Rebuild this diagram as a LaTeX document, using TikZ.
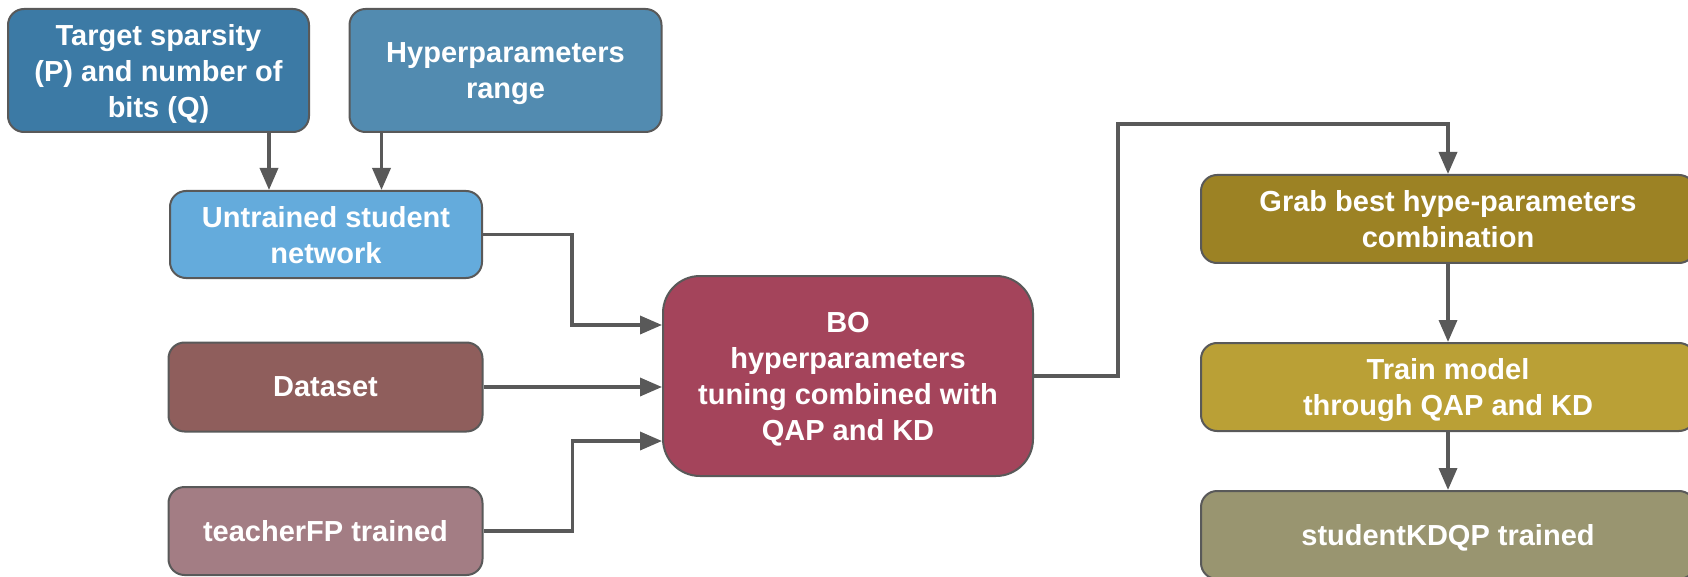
\documentclass[tikz,border=0pt]{standalone}
\usepackage{fontspec}
\setmainfont{Liberation Sans}
\usetikzlibrary{arrows.meta}

\definecolor{cTarget}{HTML}{3C7AA5}
\definecolor{cHyper}{HTML}{528BB0}
\definecolor{cUntrained}{HTML}{64ABDC}
\definecolor{cData}{HTML}{8F5E5C}
\definecolor{cTeacher}{HTML}{A37D84}
\definecolor{cBO}{HTML}{A4445B}
\definecolor{cGrab}{HTML}{9C8224}
\definecolor{cTrain}{HTML}{BAA036}
\definecolor{cStudent}{HTML}{999570}
\definecolor{edge}{HTML}{595959}

\tikzset{
  box/.style={draw=edge, line width=2pt, rounded corners=16pt, text=white,
    align=center, inner sep=0pt, text depth=0pt,
    font=\fontsize{29}{36}\selectfont\bfseries},
  arr/.style={draw=edge, line width=3.5pt,
    -{Triangle[width=18pt,length=22pt]}}
}

\begin{document}
\begin{tikzpicture}[x=1pt, y=-1pt]
\useasboundingbox (0,0) rectangle (1688,577);
\clip (0,0) rectangle (1688,577);
\fill[white] (0,0) rectangle (1688,577);

% inputs
\node[box, fill=cTarget, minimum width=301pt, minimum height=123pt] (tgt) at (158.5,70.5)
  {Target sparsity\\(P) and number of\\bits (Q)};
\node[box, fill=cHyper, minimum width=312pt, minimum height=123pt] (hyp) at (505.5,70.5)
  {Hyperparameters\\range};
\node[box, fill=cUntrained, minimum width=312pt, minimum height=87pt] (unt) at (326,234.5)
  {Untrained student\\network};
\node[box, fill=cData, minimum width=314pt, minimum height=89pt] (data) at (325.5,387)
  {Dataset};
\node[box, fill=cTeacher, minimum width=314pt, minimum height=88pt] (teach) at (325.5,531)
  {teacherFP trained};

% tuning stage
\node[box, fill=cBO, rounded corners=37pt, minimum width=370pt, minimum height=200pt] (bo) at (848,376)
  {BO\\hyperparameters\\tuning combined with\\QAP and KD};

% outputs
\node[box, fill=cGrab, minimum width=494pt, minimum height=88pt] (grab) at (1448,219)
  {Grab best hype-parameters\\combination};
\node[box, fill=cTrain, minimum width=494pt, minimum height=88pt] (train) at (1448,387)
  {Train model\\through QAP and KD};
\node[box, fill=cStudent, minimum width=494pt, minimum height=88pt] (stud) at (1448,535)
  {studentKDQP trained};

% connectors
\draw[arr] ([xshift=-41pt]tgt.south east) -- ([xshift=-41pt]tgt.south east |- unt.north);
\draw[arr] ([xshift=33pt]hyp.south west) -- ([xshift=33pt]hyp.south west |- unt.north);
\draw[arr] (unt.east) -- ++(89,0) |- ([yshift=51pt]bo.west);
\draw[arr] (data.east) -- (data.east -| bo.west);
\draw[arr] (teach.east) -- ++(89,0) |- ([yshift=-65pt]bo.west);
\draw[arr] (bo.east) -- ++(84,0) |- ([yshift=50pt]grab.north) -- (grab.north);
\draw[arr] (grab.south) -- (train.north);
\draw[arr] (train.south) -- (stud.north);
\end{tikzpicture}
\end{document}
